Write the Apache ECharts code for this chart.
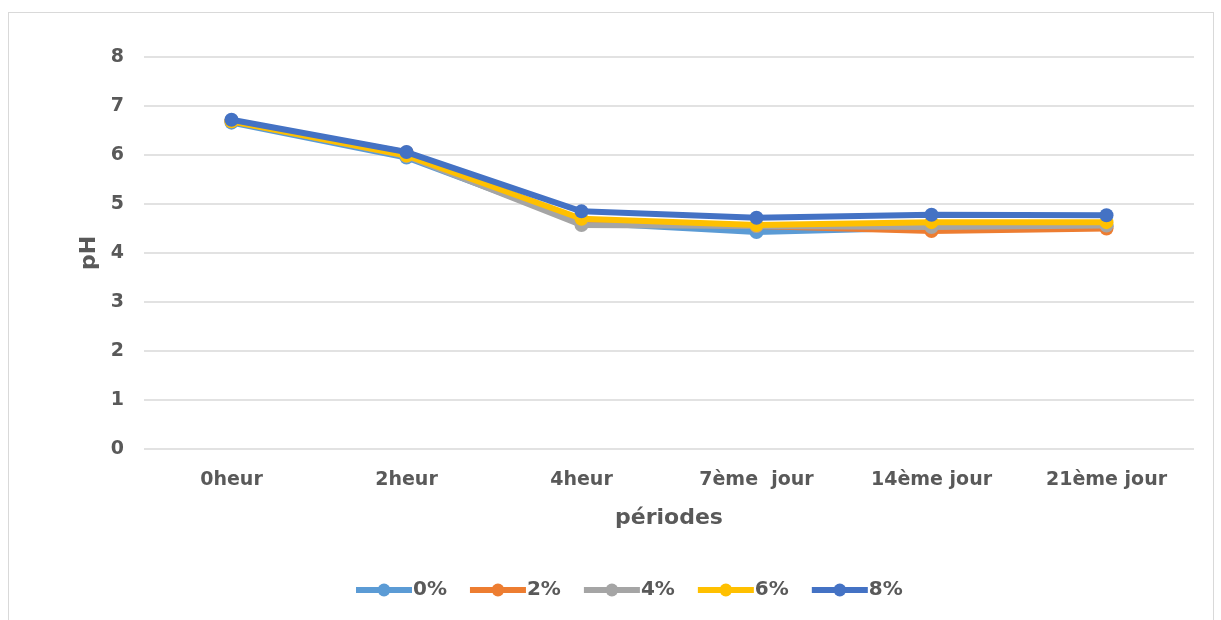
<!DOCTYPE html>
<html>
<head>
<meta charset="utf-8">
<style>
  html, body { margin: 0; padding: 0; background: #fff; }
  #frame { position: absolute; left: 8px; top: 12px; width: 1206px; height: 620px; border: 1px solid #d9d9d9; box-sizing: border-box; }
  #chart { position: absolute; left: 0; top: 0; width: 1221px; height: 620px; }
</style>
<script src="https://cdn.jsdelivr.net/npm/echarts@6/dist/echarts.min.js"></script>
</head>
<body>
<div id="frame"></div>
<div id="chart"></div>
<script>
// périodes
var periods = ['0heur', '2heur', '4heur', '7ème  jour', '14ème jour', '21ème jour'];
// pH par concentration
var ph0 = [6.66, 5.95, 4.62, 4.43, 4.52, 4.54];
var ph2 = [6.69, 6.05, 4.62, 4.55, 4.45, 4.50];
var ph4 = [6.70, 5.98, 4.57, 4.55, 4.53, 4.56];
var ph6 = [6.69, 5.99, 4.70, 4.57, 4.63, 4.63];
var ph8 = [6.72, 6.06, 4.85, 4.72, 4.78, 4.77];
var yTicks = [0, 1, 2, 3, 4, 5, 6, 7, 8];

var names = ['0%', '2%', '4%', '6%', '8%'];
var colors = ['#5b9bd5', '#ed7d31', '#a5a5a5', '#ffc000', '#4472c4'];
var values = [ph0, ph2, ph4, ph6, ph8];

var textFont = {color: '#595959', fontFamily: 'DejaVu Sans', fontWeight: 'bold'};

var chart = echarts.init(document.getElementById('chart'));
chart.setOption({
  animation: false,
  color: colors,
  grid: { left: 144, right: 27, top: 57, bottom: 171, containLabel: false },
  legend: {
    bottom: 15,
    left: 348,
    itemWidth: 56,
    itemHeight: 16,
    itemGap: 20,
    lineStyle: { width: 6 },
    textStyle: Object.assign({fontSize: 20, padding: [0, 0, 0, -4]}, textFont),
    data: names
  },
  xAxis: {
    type: 'category',
    data: periods,
    boundaryGap: true,
    axisLine: { show: false },
    axisTick: { show: false },
    axisLabel: Object.assign({fontSize: 19, margin: 22, interval: 0}, textFont),
    name: 'périodes',
    nameLocation: 'middle',
    nameGap: 58,
    nameTextStyle: Object.assign({fontSize: 22}, textFont)
  },
  yAxis: {
    type: 'value',
    min: yTicks[0],
    max: yTicks[yTicks.length - 1],
    interval: 1,
    axisLine: { show: false },
    axisTick: { show: false },
    splitLine: { lineStyle: { color: '#d9d9d9', width: 1.5 } },
    axisLabel: Object.assign({fontSize: 19, margin: 20}, textFont),
    name: 'pH',
    nameLocation: 'middle',
    nameGap: 42,
    nameTextStyle: Object.assign({fontSize: 22}, textFont)
  },
  series: names.map(function (n, i) {
    return {
      name: n,
      type: 'line',
      data: values[i],
      symbol: 'circle',
      symbolSize: 14,
      lineStyle: { width: 6, color: colors[i] },
      itemStyle: { color: colors[i] },
      z: 2 + i
    };
  })
});
</script>
</body>
</html>
